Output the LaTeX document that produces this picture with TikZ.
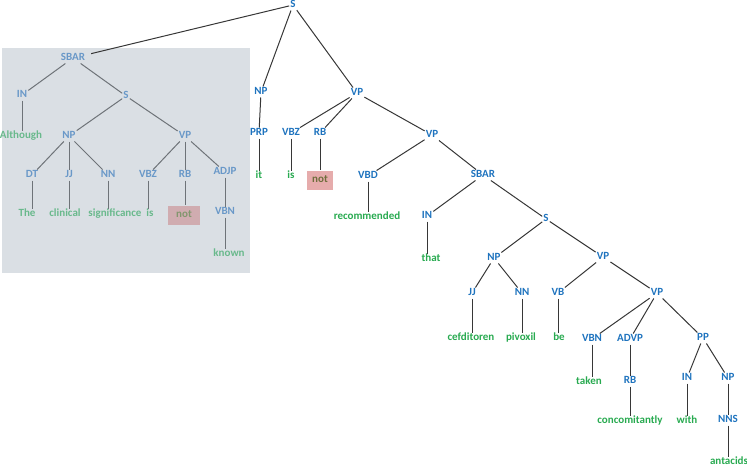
\documentclass[tikz,border=0pt]{standalone}
\usepackage{fontspec}
\setmainfont{Carlito}
\usetikzlibrary{positioning}
\definecolor{tagblue}{RGB}{30,115,190}
\definecolor{wordgreen}{RGB}{40,170,80}
\definecolor{fadeblue}{RGB}{105,152,200}
\definecolor{fadegreen}{RGB}{105,185,140}
\definecolor{edgegray}{RGB}{55,55,55}
\definecolor{fadeedge}{RGB}{110,115,120}
\definecolor{boxgray}{RGB}{218,223,228}
\definecolor{notpink}{RGB}{230,172,172}
\definecolor{fadepink}{RGB}{208,172,176}
\definecolor{notolive}{RGB}{110,110,60}
\definecolor{fadeolive}{RGB}{130,150,110}

\begin{document}
\begin{tikzpicture}[
		x=1pt, y=-1pt,
		every node/.style={font=\fontsize{11}{13}\selectfont\bfseries, inner sep=1pt, text height=1.45ex, text depth=0.35ex},
		tag/.style={text=tagblue},
		word/.style={text=wordgreen},
		ftag/.style={text=fadeblue},
		fword/.style={text=fadegreen},
		notword/.style={fill=notpink, text=notolive, minimum width=26pt, minimum height=19pt},
		fnotword/.style={fill=fadepink, text=fadeolive, minimum width=32pt, minimum height=19pt},
		edge/.style={draw=edgegray, line width=1pt},
		fedge/.style={draw=fadeedge, line width=1pt}
	]
		\useasboundingbox (0,0) rectangle (747,466);

		% shaded subordinate clause
		\fill[boxgray] (2,48) rectangle (250,273);

		\node[tag] (s0) at (293,5) {S};
		\node[tag] (np1) at (261,92) {NP};
		\node[tag] (vp1) at (357,93) {VP};
		\node[tag] (prp) at (259,133) {PRP};
		\node[tag] (vbz1) at (291,133) {VBZ};
		\node[tag] (rb1) at (320,133) {RB};
		\node[tag] (vp2) at (432,135) {VP};
		\node[word] (wit) at (259,176) {it};
		\node[word] (wis) at (291,176) {is};
		\node[notword] (wnot) at (320,180) {not};
		\node[tag] (vbd) at (368,176) {VBD};
		\node[tag] (sbar2) at (483,175) {SBAR};
		\node[word] (wrec) at (367,217) {recommended};
		\node[tag] (in2) at (427,216) {IN};
		\node[tag] (s2) at (546,219) {S};
		\node[word] (wthat) at (431,259) {that};
		\node[tag] (np2) at (494,258) {NP};
		\node[tag] (vp3) at (603,257) {VP};
		\node[tag] (jj2) at (472,293) {JJ};
		\node[tag] (nn2) at (522,293) {NN};
		\node[tag] (vb) at (558,293) {VB};
		\node[tag] (vp4) at (657,293) {VP};
		\node[word] (wcef) at (471,338) {cefditoren};
		\node[word] (wpiv) at (521,338) {pivoxil};
		\node[word] (wbe) at (559,338) {be};
		\node[tag] (vbn2) at (592,339) {VBN};
		\node[tag] (advp) at (630,339) {ADVP};
		\node[tag] (pp) at (703,338) {PP};
		\node[word] (wtaken) at (589,382) {taken};
		\node[tag] (rb2) at (630,381) {RB};
		\node[tag] (in3) at (687,378) {IN};
		\node[tag] (np3) at (728,378) {NP};
		\node[word] (wconc) at (630,421) {concomitantly};
		\node[word] (wwith) at (687,421) {with};
		\node[tag] (nns) at (728,420) {NNS};
		\node[word] (want) at (729,462) {antacids};

		% inside the box
		\node[ftag] (sbar1) at (73,58) {SBAR};
		\node[ftag] (in1) at (22,95) {IN};
		\node[ftag] (s1) at (126,96) {S};
		\node[fword] (walt) at (21,136) {Although};
		\node[ftag] (np0) at (69,136) {NP};
		\node[ftag] (vp0) at (185,136) {VP};
		\node[ftag] (dt) at (32,175) {DT};
		\node[ftag] (jj1) at (69,175) {JJ};
		\node[ftag] (nn1) at (108,175) {NN};
		\node[ftag] (vbz0) at (148,175) {VBZ};
		\node[ftag] (rb0) at (185,175) {RB};
		\node[ftag] (adjp) at (225,172) {ADJP};
		\node[fword] (wthe) at (27,214) {The};
		\node[fword] (wclin) at (65,214) {clinical};
		\node[fword] (wsig) at (115,214) {significance};
		\node[fword] (wis0) at (150,214) {is};
		\node[fnotword] (wnot0) at (184,215) {not};
		\node[ftag] (vbn1) at (225,212) {VBN};
		\node[fword] (wknown) at (229,254) {known};

		\draw[edge, shorten >=5pt] (s0) -- (sbar1);
		\draw[edge] (s0) -- (np1);
		\draw[edge] (s0) -- (vp1);
		\draw[edge] (np1) -- (prp);
		\draw[edge] (prp.south) -- (prp.south |- wit.north);
		\draw[edge] (vp1) -- (vbz1);
		\draw[edge] (vp1) -- (rb1);
		\draw[edge] (vp1) -- (vp2);
		\draw[edge] (vbz1.south) -- (vbz1.south |- wis.north);
		\draw[edge] (rb1.south) -- (rb1.south |- wnot.north);
		\draw[edge] (vp2) -- (vbd);
		\draw[edge] (vp2) -- (sbar2);
		\draw[edge] (vbd.south) -- (vbd.south |- wrec.north);
		\draw[edge] (sbar2) -- (in2);
		\draw[edge] (sbar2) -- (s2);
		\draw[edge] (in2.south) -- (in2.south |- wthat.north);
		\draw[edge] (s2) -- (np2);
		\draw[edge] (s2) -- (vp3);
		\draw[edge] (np2) -- (jj2);
		\draw[edge] (np2) -- (nn2);
		\draw[edge] (jj2.south) -- (jj2.south |- wcef.north);
		\draw[edge] (nn2.south) -- (nn2.south |- wpiv.north);
		\draw[edge] (vp3) -- (vb);
		\draw[edge] (vp3) -- (vp4);
		\draw[edge] (vb.south) -- (vb.south |- wbe.north);
		\draw[edge] (vp4) -- (vbn2);
		\draw[edge] (vp4) -- (advp);
		\draw[edge] (vp4) -- (pp);
		\draw[edge] (vbn2.south) -- (vbn2.south |- wtaken.north);
		\draw[edge] (advp.south) -- (advp.south |- rb2.north);
		\draw[edge] (rb2.south) -- (rb2.south |- wconc.north);
		\draw[edge] (pp) -- (in3);
		\draw[edge] (pp) -- (np3);
		\draw[edge] (in3.south) -- (in3.south |- wwith.north);
		\draw[edge] (np3.south) -- (np3.south |- nns.north);
		\draw[edge] (nns.south) -- (nns.south |- want.north);

		\draw[fedge] (sbar1) -- (in1);
		\draw[fedge] (sbar1) -- (s1);
		\draw[fedge] (in1.south) -- (in1.south |- walt.north);
		\draw[fedge] (s1) -- (np0);
		\draw[fedge] (s1) -- (vp0);
		\draw[fedge] (np0) -- (dt);
		\draw[fedge] (np0) -- (jj1);
		\draw[fedge] (np0) -- (nn1);
		\draw[fedge] (dt.south) -- (dt.south |- wthe.north);
		\draw[fedge] (jj1.south) -- (jj1.south |- wclin.north);
		\draw[fedge] (nn1.south) -- (nn1.south |- wsig.north);
		\draw[fedge] (vp0) -- (vbz0);
		\draw[fedge] (vp0) -- (rb0);
		\draw[fedge] (vp0) -- (adjp);
		\draw[fedge] (vbz0.south) -- (vbz0.south |- wis0.north);
		\draw[fedge] (rb0.south) -- (rb0.south |- wnot0.north);
		\draw[fedge] (adjp.south) -- (adjp.south |- vbn1.north);
		\draw[fedge] (vbn1.south) -- (vbn1.south |- wknown.north);
	\end{tikzpicture}
\end{document}
